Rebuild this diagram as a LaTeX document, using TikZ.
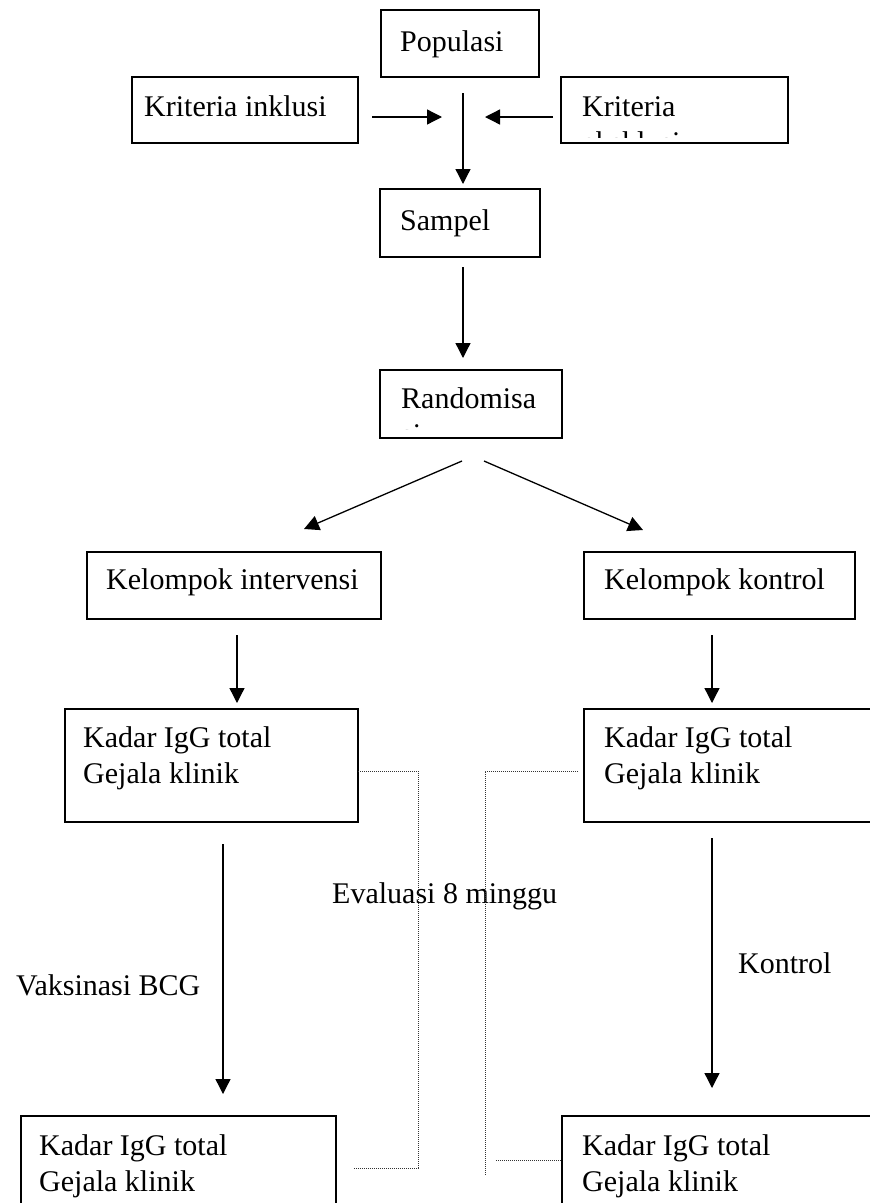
\documentclass[tikz,border=0pt]{standalone}
\usepackage{fontspec}
\setmainfont{Liberation Serif}
\usetikzlibrary{arrows.meta}
\newcommand\flowfont{\fontsize{30}{36}\selectfont}
\tikzset{
  frame/.style={draw=black, line width=1.7pt, fill=none},
  txt/.style={inner sep=0pt, anchor=base west, font=\flowfont},
  flow/.style={line width=1.3pt, -{Triangle[length=15pt,width=15pt]}},
  evalline/.style={line width=0.9pt, dash pattern=on 1pt off 1pt, draw=black!80}
}
\newcommand\twolines[2]{\begin{tabular}[t]{@{}l@{}}#1\\#2\end{tabular}}
\begin{document}
\begin{tikzpicture}[x=1pt,y=-1pt]
\useasboundingbox (0,0) rectangle (870,1203);
\clip (0,0) rectangle (870,1203);

% ---- boxes
\draw[frame] (381,10) rectangle (539,77);
\draw[frame] (132,77) rectangle (358,143);
\draw[frame] (561,77) rectangle (788,143);
\draw[frame] (380,189) rectangle (540,257);
\draw[frame] (380,370) rectangle (562,438);
\draw[frame] (87,552) rectangle (381,619);
\draw[frame] (584,552) rectangle (855,619);
\draw[frame] (65,709) rectangle (358,822);
\draw[frame] (584,709) rectangle (885,822);
\draw[frame] (21,1116) rectangle (336,1220);
\draw[frame] (562,1116) rectangle (885,1220);

% ---- box texts
\node[txt] (tpop) at (400,51) {Populasi};
\node[txt] (tinc) at (144,116) {Kriteria inklusi};
\begin{scope}
  \clip (561,77) rectangle (788,137);
  \node[txt] (texc) at (582,116) {\twolines{Kriteria}{eksklusi}};
\end{scope}
\node[txt] (tsam) at (400,230) {Sampel};
\begin{scope}
  \clip (380,370) rectangle (562,429);
  \node[txt] (tran) at (401,408) {\twolines{Randomisa}{si}};
\end{scope}
\node[txt] (tkint) at (106,589) {Kelompok intervensi};
\node[txt] (tkkon) at (604,589) {Kelompok kontrol};
\node[txt] (tkadl) at (83,747) {\twolines{Kadar IgG total}{Gejala klinik}};
\node[txt] (tkadr) at (604,747) {\twolines{Kadar IgG total}{Gejala klinik}};
\node[txt] (tbotl) at (39,1155) {\twolines{Kadar IgG total}{Gejala klinik}};
\node[txt] (tbotr) at (582,1155) {\twolines{Kadar IgG total}{Gejala klinik}};

% ---- free labels
\node[txt] (leval) at (332,903) {Evaluasi 8 minggu};
\node[txt] (lbcg) at (16,995) {Vaksinasi BCG};
\node[txt] (lkon) at (738,973) {Kontrol};

% ---- arrow end points
\coordinate (i1) at (372,117);  \coordinate (i2) at (442,117);
\coordinate (e1) at (553,117);  \coordinate (e2) at (485,117);
\coordinate (p1) at (463,93);   \coordinate (p2) at (463,184);
\coordinate (s1) at (463,267);  \coordinate (s2) at (463,358);
\coordinate (r0) at (462,461);  \coordinate (rl) at (304,529);
\coordinate (r1) at (484,461);  \coordinate (rr) at (643,530);
\coordinate (k1) at (237,635);  \coordinate (k2) at (237,703);
\coordinate (c1) at (712,635);  \coordinate (c2) at (712,703);
\coordinate (v1) at (223,844);  \coordinate (v2) at (223,1094);
\coordinate (w1) at (712,838);  \coordinate (w2) at (712,1088);

\draw[flow] (i1) -- (i2);
\draw[flow] (e1) -- (e2);
\draw[flow] (p1) -- (p2);
\draw[flow] (s1) -- (s2);
\draw[flow] (r0) -- (rl);
\draw[flow] (r1) -- (rr);
\draw[flow] (k1) -- (k2);
\draw[flow] (c1) -- (c2);
\draw[flow] (v1) -- (v2);
\draw[flow] (w1) -- (w2);

% ---- evaluation brackets (dotted)
\coordinate (dl1) at (358,771);  \coordinate (dl2) at (418,771);
\coordinate (dl3) at (418,1168); \coordinate (dl4) at (354,1168);
\coordinate (dr1) at (578,771);  \coordinate (dr2) at (485,771);
\coordinate (dr3) at (485,1175);
\coordinate (db1) at (496,1160); \coordinate (db2) at (561,1160);
\draw[evalline] (dl1) -- (dl2) -- (dl3) -- (dl4);
\draw[evalline] (dr1) -- (dr2) -- (dr3);
\draw[evalline] (db1) -- (db2);
\end{tikzpicture}
\end{document}
